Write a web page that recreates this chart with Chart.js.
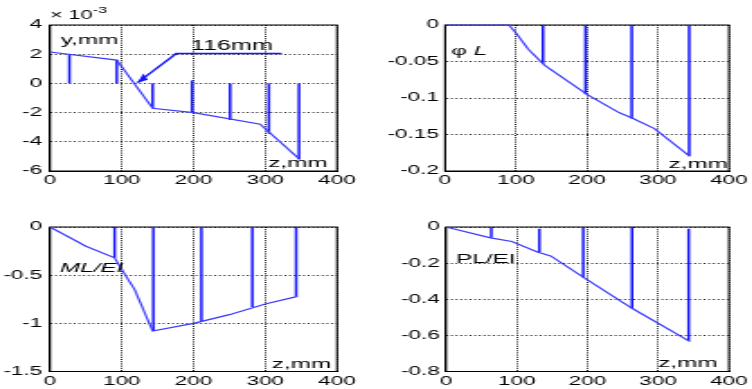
<!DOCTYPE html>
<html><head><meta charset="utf-8">
<script src="https://cdn.jsdelivr.net/npm/chart.js@4.4.1/dist/chart.umd.min.js"></script>
<style>
html,body{margin:0;padding:0;background:#fff;width:752px;height:389px;overflow:hidden;position:relative;}
.w{position:absolute;transform-origin:0 0;}
.w canvas{display:block;}
</style></head><body>
<div class="w" id="w1"><canvas id="c1"></canvas></div>
<div class="w" id="w2"><canvas id="c2"></canvas></div>
<div class="w" id="w3"><canvas id="c3"></canvas></div>
<div class="w" id="w4"><canvas id="c4"></canvas></div>
<script>
// ---------- data ----------
const xTickVals = [0, 100, 200, 300, 400];
const xTickLabels = ['0', '100', '200', '300', '400'];

// Plot 1: deflection y, mm (x 10^-3)
const p1LineX = [0, 93, 143, 200, 293, 348];
const p1LineY = [2.15, 1.6, -1.7, -2.0, -2.8, -5.2];
const p1StemX = [27, 93, 143, 198, 251, 305, 347];
const p1StemTop = [0, 0, 0, 0.2, 0, 0, 0];
const p1StemEnd = [2.0, 1.6, -1.7, -2.0, -2.5, -3.45, -5.2];
const p1ArrowX = [323, 176, 122];
const p1ArrowY = [2.05, 2.05, 0.05];
const p1TickVals = [-6, -4, -2, 0, 2, 4];
const p1TickLabels = ['-6', '-4', '-2', '0', '2', '4'];

// Plot 2: phi L
const p2LineX = [0, 90, 100, 117, 140, 200, 245, 265, 295, 345];
const p2LineY = [0, 0, -0.011, -0.033, -0.055, -0.095, -0.12, -0.128, -0.142, -0.18];
const p2StemX = [138, 198, 263, 344];
const p2StemTop = [0, 0, 0, 0];
const p2StemEnd = [-0.053, -0.095, -0.128, -0.179];
const p2TickVals = [-0.2, -0.15, -0.1, -0.05, 0];
const p2TickLabels = ['-0.2', '-0.15', '-0.1', '-0.05', '0'];

// Plot 3: ML/EI
const p3LineX = [0, 50, 90, 105, 118, 143, 200, 250, 300, 345];
const p3LineY = [0, -0.2, -0.32, -0.5, -0.65, -1.08, -1.0, -0.91, -0.8, -0.72];
const p3StemX = [90, 144, 211, 282, 343];
const p3StemTop = [0, 0, 0, 0, 0];
const p3StemEnd = [-0.32, -1.08, -0.98, -0.83, -0.72];
const p3TickVals = [-1.5, -1, -0.5, 0];
const p3TickLabels = ['-1.5', '-1', '-0.5', '0'];

// Plot 4: PL/EI
const p4LineX = [0, 63, 93, 130, 148, 195, 263, 345];
const p4LineY = [0, -0.06, -0.08, -0.14, -0.16, -0.28, -0.45, -0.635];
const p4StemX = [64, 132, 194, 263, 343];
const p4StemTop = [0, -0.01, 0, 0, -0.01];
const p4StemEnd = [-0.06, -0.14, -0.28, -0.45, -0.63];
const p4TickVals = [-0.8, -0.6, -0.4, -0.2, 0];
const p4TickLabels = ['-0.8', '-0.6', '-0.4', '-0.2', '0'];

// ---------- rendering ----------
const S = 1.8;           // horizontal stretch of the original picture
const WI = 209;          // internal width of each canvas
const FAM = "'Liberation Sans', Arial, Helvetica, sans-serif";
Chart.defaults.font.family = FAM;
Chart.defaults.font.size = 12;
Chart.defaults.color = '#000';

const LINE_COL = '#3a3aff';
const STEM_COL = '#1414ff';

function zip(xs, ys) { return xs.map((x, i) => ({x: x, y: ys[i]})); }

function makeChart(n, spec) {
  const wrap = document.getElementById('w' + n);
  wrap.style.left = spec.L + 'px';
  wrap.style.top = spec.T + 'px';
  wrap.style.width = WI + 'px';
  wrap.style.height = spec.H + 'px';
  wrap.style.transform = 'scaleX(' + S + ')';

  const leftI = (spec.area.left - spec.L) / S;
  const rightPad = WI - (spec.area.right - spec.L) / S;
  const topPad = spec.area.top - spec.T;
  const xH = spec.H - (spec.area.bottom - spec.T);

  const datasets = [{
    data: zip(spec.lineX, spec.lineY),
    borderColor: LINE_COL, borderWidth: 1.2, showLine: true, pointRadius: 0, clip: false
  }];
  spec.stemX.forEach((sx, i) => {
    datasets.push({
      data: [{x: sx, y: spec.stemTop[i]}, {x: sx, y: spec.stemEnd[i]}],
      borderColor: STEM_COL, borderWidth: 1.5, showLine: true, pointRadius: 0, clip: false
    });
  });
  if (spec.arrowX) {
    datasets.push({
      data: zip(spec.arrowX, spec.arrowY),
      borderColor: STEM_COL, borderWidth: 1.4, showLine: true, pointRadius: 0, clip: false
    });
  }

  const plug = {
    id: 'frame' + n,
    beforeDatasetsDraw(chart) {
      const {ctx, chartArea: a} = chart;
      ctx.save();
      ctx.strokeStyle = '#000';
      ctx.lineWidth = 1;
      ctx.strokeRect(a.left, a.top, a.right - a.left, a.bottom - a.top);
      ctx.restore();
    },
    afterDatasetsDraw(chart) {
      const ctx = chart.ctx;
      const xs = chart.scales.x, ys = chart.scales.y;
      ctx.save();
      ctx.fillStyle = '#000';
      ctx.textBaseline = 'alphabetic';
      ctx.textAlign = 'left';
      (spec.notes || []).forEach(note => {
        let px = xs.getPixelForValue(note.x);
        const py = ys.getPixelForValue(note.y);
        note.parts.forEach(p => {
          ctx.font = (p.italic ? 'italic ' : '') + p.size + 'px ' + FAM;
          ctx.fillText(p.t, px, py + (p.dy || 0));
          px += ctx.measureText(p.t).width;
        });
      });
      if (spec.arrowX) {
        const k = spec.arrowX.length;
        const x1 = xs.getPixelForValue(spec.arrowX[k - 2]), y1 = ys.getPixelForValue(spec.arrowY[k - 2]);
        const x2 = xs.getPixelForValue(spec.arrowX[k - 1]), y2 = ys.getPixelForValue(spec.arrowY[k - 1]);
        const dx = (x2 - x1) * S, dy = y2 - y1;
        const len = Math.hypot(dx, dy);
        const ux = dx / len, uy = dy / len;
        const hl = 10, hw = 4;
        const bx = -ux * hl, by = -uy * hl;
        const p1 = [bx - uy * hw, by + ux * hw];
        const p2 = [bx + uy * hw, by - ux * hw];
        ctx.fillStyle = STEM_COL;
        ctx.beginPath();
        ctx.moveTo(x2, y2);
        ctx.lineTo(x2 + p1[0] / S, y2 + p1[1]);
        ctx.lineTo(x2 + p2[0] / S, y2 + p2[1]);
        ctx.closePath();
        ctx.fill();
      }
      ctx.restore();
    }
  };

  const tickLab = (vals, labs) => (v) => {
    const i = vals.findIndex(t => Math.abs(t - v) < 1e-9);
    return i >= 0 ? labs[i] : '';
  };

  new Chart(document.getElementById('c' + n), {
    type: 'scatter',
    data: {datasets},
    options: {
      responsive: true,
      maintainAspectRatio: false,
      animation: false,
      events: [],
      layout: {padding: {left: 0, right: rightPad, top: topPad, bottom: 0}},
      plugins: {legend: {display: false}, tooltip: {enabled: false}},
      scales: {
        x: {
          type: 'linear', min: 0, max: 400,
          afterBuildTicks: s => { s.ticks = xTickVals.map(v => ({value: v})); },
          afterFit: s => { s.height = xH; },
          ticks: {padding: 2.5, maxRotation: 0, autoSkip: false,
                  callback: tickLab(xTickVals, xTickLabels), font: {size: 12.5}},
          grid: {color: '#222', lineWidth: 1, drawTicks: false},
          border: {display: true, color: '#000', width: 1, dash: [1, 1.2]}
        },
        y: {
          type: 'linear', min: spec.yMin, max: spec.yMax,
          afterBuildTicks: s => { s.ticks = spec.tickVals.map(v => ({value: v})); },
          afterFit: s => { s.width = leftI; },
          ticks: {padding: spec.yPad, autoSkip: false,
                  callback: tickLab(spec.tickVals, spec.tickLabels), font: {size: 12.5}},
          grid: {color: '#222', lineWidth: 1, drawTicks: false},
          border: {display: true, color: '#000', width: 1, dash: [1, 1.6]}
        }
      }
    },
    plugins: [plug]
  });
}

makeChart(1, {
  L: 0, T: 0, H: 195, area: {left: 50, right: 337, top: 25, bottom: 171},
  lineX: p1LineX, lineY: p1LineY, stemX: p1StemX, stemTop: p1StemTop, stemEnd: p1StemEnd,
  arrowX: p1ArrowX, arrowY: p1ArrowY,
  yMin: -6, yMax: 4, tickVals: p1TickVals, tickLabels: p1TickLabels, yPad: 4.3,
  notes: [
    {x: 15, y: 2.68, parts: [{t: 'y,mm', size: 13.5}]},
    {x: 304, y: -5.7, parts: [{t: 'z,mm', size: 13.5}]},
    {x: 196, y: 2.3, parts: [{t: '116mm', size: 14}]},
    {x: 0, y: 4.38, parts: [{t: '\u00d7 10', size: 12}, {t: '-3', size: 9, dy: -6}]}
  ]
});
makeChart(2, {
  L: 376, T: 0, H: 195, area: {left: 445, right: 733, top: 25, bottom: 171},
  lineX: p2LineX, lineY: p2LineY, stemX: p2StemX, stemTop: p2StemTop, stemEnd: p2StemEnd,
  yMin: -0.2, yMax: 0, tickVals: p2TickVals, tickLabels: p2TickLabels, yPad: 3.4,
  notes: [
    {x: 8.4, y: -0.041, parts: [{t: '\u03c6 ', size: 13.5}, {t: 'L', size: 13.5, italic: true}]},
    {x: 315, y: -0.196, parts: [{t: 'z,mm', size: 13.5}]}
  ]
});
makeChart(3, {
  L: 0, T: 195, H: 194, area: {left: 50, right: 337, top: 227, bottom: 371.5},
  lineX: p3LineX, lineY: p3LineY, stemX: p3StemX, stemTop: p3StemTop, stemEnd: p3StemEnd,
  yMin: -1.5, yMax: 0, tickVals: p3TickVals, tickLabels: p3TickLabels, yPad: 4.3,
  notes: [
    {x: 14, y: -0.464, parts: [{t: 'ML/EI', size: 13.5, italic: true}]},
    {x: 309, y: -1.464, parts: [{t: 'z,mm', size: 13.5}]}
  ]
});
makeChart(4, {
  L: 376, T: 195, H: 194, area: {left: 446, right: 733, top: 227, bottom: 371.5},
  lineX: p4LineX, lineY: p4LineY, stemX: p4StemX, stemTop: p4StemTop, stemEnd: p4StemEnd,
  yMin: -0.8, yMax: 0, tickVals: p4TickVals, tickLabels: p4TickLabels, yPad: 3.4,
  notes: [
    {x: 14, y: -0.2, parts: [{t: 'PL/EI', size: 13.5}]},
    {x: 300, y: -0.775, parts: [{t: 'z,mm', size: 13.5}]}
  ]
});
</script>
</body></html>
